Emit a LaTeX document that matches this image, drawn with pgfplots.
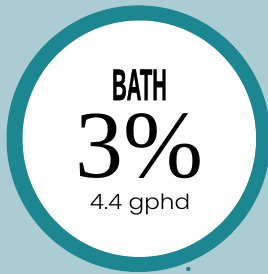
\documentclass[border=0pt]{standalone}
\usepackage{pgfplots}
\pgfplotsset{compat=1.18}
\usepackage{fontspec}
\setmainfont{Liberation Sans}
\newfontfamily\serifnum{Liberation Serif}
\newfontfamily\geo{Poppins Light}
\newfontfamily\headf[FakeBold=1.4]{Liberation Sans Bold}
\definecolor{bgblue}{RGB}{172,204,212}
\definecolor{ringteal}{RGB}{29,135,145}
\begin{document}
\begin{tikzpicture}
\begin{axis}[
  width=268pt, height=274pt, scale only axis,
  xmin=0, xmax=268, ymin=0, ymax=274,
  hide axis, clip=true,
]
\fill[bgblue] (axis cs:0,0) rectangle (axis cs:268,274);
\fill[ringteal] (axis cs:138.5,135.3) ellipse [x radius=132pt, y radius=133.3pt];
\fill[white] (axis cs:139.3,135.3) ellipse [x radius=116.7pt, y radius=118.2pt];
\addplot[only marks, mark=*, mark size=2pt, color=ringteal] coordinates {(188.3,5)};
\node[anchor=base, inner sep=0pt, text depth=0pt] at (axis cs:139.5,174) {\scalebox{0.46}[1]{\headf\fontsize{44}{44}\selectfont BATH}};
\node[anchor=base, inner sep=0pt, text height=66pt, text depth=0pt] at (axis cs:139.5,96) {\serifnum\fontsize{96}{96}\selectfont 3\%};
\node[anchor=base, inner sep=0pt, text height=15pt, text depth=5pt] at (axis cs:140,64.5) {\scalebox{1.1}[1]{\geo\fontsize{21}{21}\selectfont 4.4 gphd}};
\end{axis}
\end{tikzpicture}
\end{document}
